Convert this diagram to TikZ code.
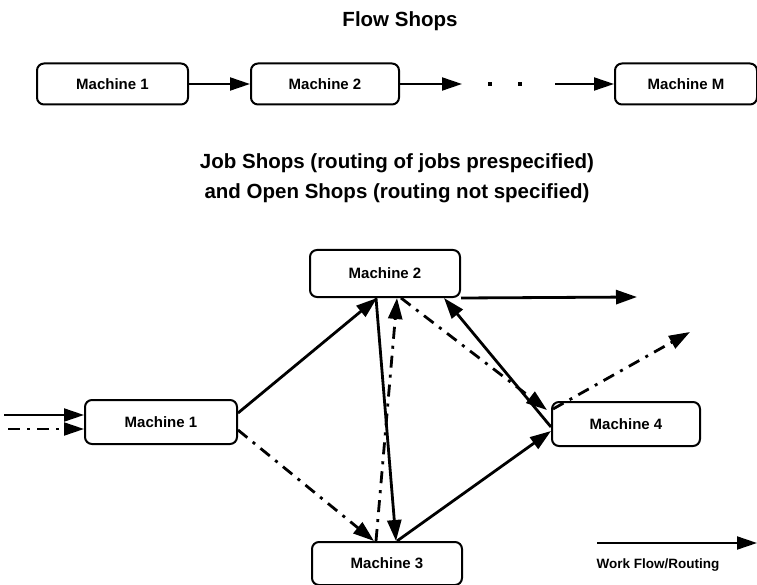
\documentclass[tikz,border=0pt]{standalone}
\usepackage{fontspec}
\setmainfont{Liberation Sans}
\usetikzlibrary{arrows.meta,calc}
\begin{document}
\begin{tikzpicture}[x=1pt,y=-1pt,
  mbox/.style={draw, line width=2pt, rounded corners=7pt, inner sep=0pt,
    font=\bfseries\fontsize{15}{17}\selectfont},
  ttl/.style={font=\bfseries\fontsize{20.5}{24}\selectfont, align=center},
  flow/.style={line width=2.8pt, -{Triangle[length=21pt,width=14pt]}},
  thinflow/.style={line width=2pt, -{Triangle[length=20pt,width=13pt]}},
  dd/.style={dash pattern=on 12pt off 7pt on 3pt off 7pt},
  dotmark/.style={fill, inner sep=0pt, minimum size=4pt}]
\useasboundingbox (0,0) rectangle (757,585);

% titles
\node[ttl] (t1) at (400,21) {Flow Shops};
\node[ttl] (t2) at (397,163) {Job Shops (routing of jobs prespecified)};
\node[ttl] (t3) at (397,193) {and Open Shops (routing not specified)};

% flow shop row
\node[mbox, minimum width=151pt, minimum height=41pt] (f1) at (112.5,84) {Machine 1};
\node[mbox, minimum width=148pt, minimum height=41pt] (f2) at (325,84) {Machine 2};
\node[mbox, minimum width=142pt, minimum height=41pt] (fm) at (686,84) {Machine M};
\coordinate (fa) at (462,84);
\coordinate (fb) at (555,84);
\node[dotmark] (d1) at (490,84) {};
\node[dotmark] (d2) at (520,84) {};
\draw[thinflow] (f1) -- (f2);
\draw[thinflow] (f2) -- (fa);
\draw[thinflow] (fb) -- (fm);

% job shop nodes
\node[mbox, minimum width=150pt, minimum height=47pt] (m2) at (385,273.5) {Machine 2};
\node[mbox, minimum width=152pt, minimum height=44pt] (m1) at (161,422) {Machine 1};
\node[mbox, minimum width=148pt, minimum height=44pt] (m4) at (626,424) {Machine 4};
\node[mbox, minimum width=150pt, minimum height=43pt] (m3) at (387,563.5) {Machine 3};

% inputs
\coordinate (in1) at (4,415);
\coordinate (in2) at (8,429);
\draw[thinflow] (in1) -- ([shift={(0,-7)}]m1.west);
\draw[thinflow, dd] (in2) -- ([shift={(0,7)}]m1.west);

% connectors
\draw[flow] ([shift={(0,14)}]m1.north east) -- ([shift={(68,0)}]m2.south west);
\draw[flow, dd] ([shift={(0,8)}]m1.east) -- ([shift={(63,0)}]m3.north west);
\draw[flow] ([shift={(67,0)}]m2.south west) -- ([shift={(85,0)}]m3.north west);
\draw[flow, dd] ([shift={(65,0)}]m3.north west) -- ([shift={(88,0)}]m2.south west);
\draw[flow] ([shift={(86,0)}]m3.north west) -- ([shift={(0,30)}]m4.north west);
\draw[flow] ([shift={(0,26)}]m4.north west) -- ([shift={(135,0)}]m2.south west);
\draw[flow, dd] ([shift={(92,0)}]m2.south west) -- ([shift={(-4,9)}]m4.north west);
\coordinate (out2) at (690,332);
\draw[flow, dd] ([shift={(2,8)}]m4.north west) -- (out2);
\coordinate (out1) at (637,297);
\draw[flow] (m2.south east) -- (out1);

% legend
\coordinate (la) at (597,543);
\coordinate (lb) at (757,543);
\draw[thinflow] (la) -- (lb);
\node[font=\bfseries\fontsize{13.5}{15}\selectfont] (lt) at (658,565) {Work Flow/Routing};
\end{tikzpicture}
\end{document}
